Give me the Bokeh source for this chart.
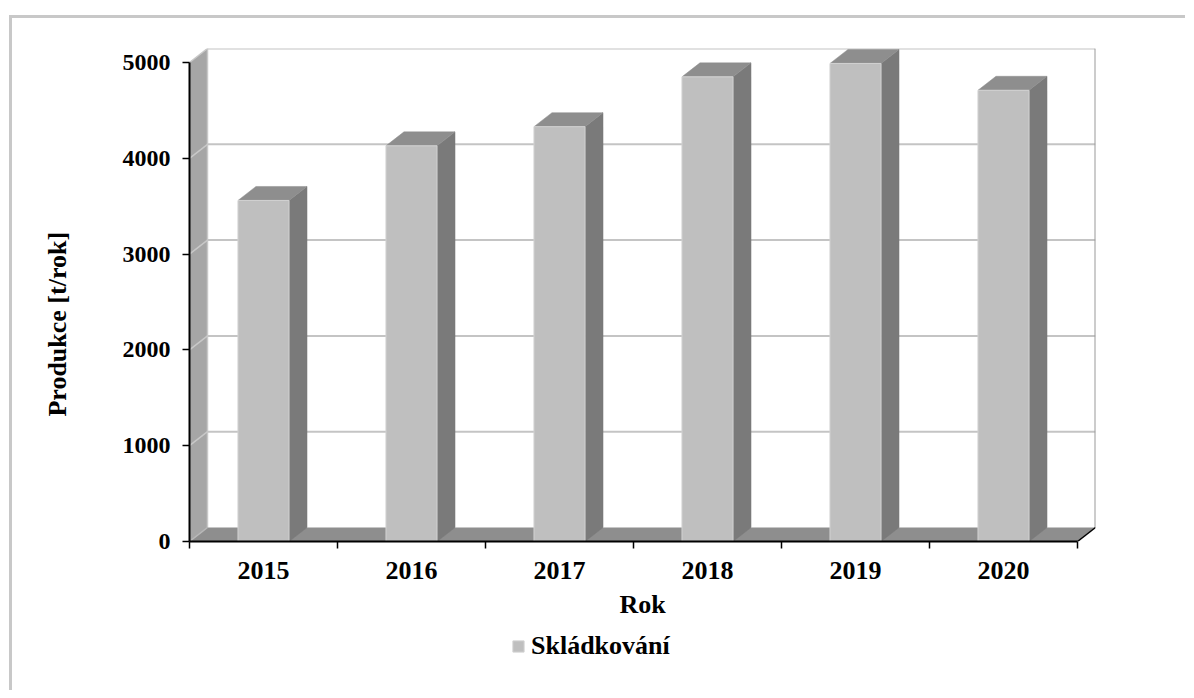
from bokeh.plotting import figure
from bokeh.layouts import column
from bokeh.models import Range1d, FixedTicker, LinearAxis, Legend, LegendItem
from bokeh.embed import file_html
from bokeh.resources import INLINE

# ---------------- data ----------------
years = ["2015", "2016", "2017", "2018", "2019", "2020"]
production = [3560, 4130, 4330, 4850, 4990, 4710]
y_ticks = [0, 1000, 2000, 3000, 4000, 5000]
series_name = "Skládkování"
x_title = "Rok"
y_title = "Produkce [t/rok]"

# ---------------- geometry (3-D look) ----------------
n = len(years)
y_max = y_ticks[-1]
bar_w = 0.345          # in category units
depth_x = 0.1216       # in category units
depth_y = 146          # in value units

FONT = "Liberation Serif"
FRONT = "#bfbfbf"

p = figure(width=1173, height=612,
           x_range=Range1d(0, n + depth_x), y_range=Range1d(0, y_max + depth_y),
           x_axis_type=None, y_axis_type=None,
           output_backend="svg", toolbar_location=None,
           min_border_left=177, min_border_right=90,
           min_border_top=30, min_border_bottom=89)
p.outline_line_color = None
p.background_fill_color = "white"
p.border_fill_color = "white"

# back wall
p.quad(left=depth_x, right=n + depth_x, bottom=depth_y, top=y_max + depth_y,
       fill_color="white", line_color=None)
grid_vals = y_ticks[1:]
p.segment(x0=[depth_x] * len(grid_vals), x1=[n + depth_x] * len(grid_vals),
          y0=[v + depth_y for v in grid_vals], y1=[v + depth_y for v in grid_vals],
          line_color="#c4c4c4", line_width=2)
p.segment(x0=[n + depth_x], x1=[n + depth_x], y0=[depth_y], y1=[y_max + depth_y],
          line_color="#9a9a9a", line_width=2)

# left wall
p.patch(x=[0, 0, depth_x, depth_x], y=[0, y_max, y_max + depth_y, depth_y],
        fill_color="#a6a6a6", line_color=None)
p.segment(x0=[0] * len(grid_vals), x1=[depth_x] * len(grid_vals),
          y0=grid_vals, y1=[v + depth_y for v in grid_vals],
          line_color="#c8c8c8", line_width=1.5)
p.segment(x0=[depth_x], x1=[depth_x], y0=[depth_y], y1=[y_max + depth_y],
          line_color="#c8c8c8", line_width=1.5)

# floor
p.patch(x=[0, n, n + depth_x, depth_x], y=[0, 0, depth_y, depth_y],
        fill_color="#8e8e8e", line_color=None)
p.segment(x0=[0], x1=[depth_x], y0=[0], y1=[depth_y], line_color="#b8b8b8", line_width=1.5)
p.segment(x0=[n], x1=[n + depth_x], y0=[0], y1=[depth_y], line_color="black", line_width=1.5)

# bars
centers = [i + 0.5 for i in range(n)]
lefts = [c - bar_w / 2 for c in centers]
rights = [c + bar_w / 2 for c in centers]
side_xs = [[r, r + depth_x, r + depth_x, r] for r in rights]
side_ys = [[0, depth_y, v + depth_y, v] for v in production]
top_xs = [[l, r, r + depth_x, l + depth_x] for l, r in zip(lefts, rights)]
top_ys = [[v, v, v + depth_y, v + depth_y] for v in production]
p.patches(xs=side_xs, ys=side_ys, fill_color="#7a7a7a", line_color="#7a7a7a", line_width=0.5)
p.patches(xs=top_xs, ys=top_ys, fill_color="#8e8e8e", line_color="#8e8e8e", line_width=0.5)
front = p.quad(left=lefts, right=rights, bottom=[0] * n, top=production,
               fill_color=FRONT, line_color="#d2d2d2", line_width=1)

# y axis
yaxis = LinearAxis(ticker=FixedTicker(ticks=y_ticks), bounds=(0, y_max))
yaxis.axis_line_color = "black"
yaxis.axis_line_width = 2
yaxis.major_tick_out = 7
yaxis.major_tick_in = 0
yaxis.major_tick_line_color = "black"
yaxis.major_tick_line_width = 1.5
yaxis.minor_tick_line_color = None
yaxis.major_label_standoff = 12
yaxis.major_label_text_font = FONT
yaxis.major_label_text_font_style = "bold"
yaxis.major_label_text_font_size = "24px"
yaxis.major_label_text_color = "black"
p.add_layout(yaxis, "left")

# second (label-only) left axis carrying the rotated y title; trailing no-break
# spaces move the visible words down so they sit where the reference has them
ytitle_axis = LinearAxis(ticker=FixedTicker(ticks=[]))
ytitle_axis.axis_line_color = None
ytitle_axis.major_tick_line_color = None
ytitle_axis.minor_tick_line_color = None
ytitle_axis.major_label_text_font_size = "0px"
ytitle_axis.axis_label = y_title + "\u00a0" * 9
ytitle_axis.axis_label_standoff = 48
ytitle_axis.axis_label_text_font = FONT
ytitle_axis.axis_label_text_font_style = "bold"
ytitle_axis.axis_label_text_font_size = "26px"
ytitle_axis.axis_label_text_color = "black"
p.add_layout(ytitle_axis, "left")

# x axis
xaxis = LinearAxis(ticker=FixedTicker(ticks=centers, minor_ticks=list(range(n + 1))),
                   bounds=(0, n))
xaxis.major_label_overrides = {c: y for c, y in zip(centers, years)}
xaxis.axis_line_color = "black"
xaxis.axis_line_width = 2
xaxis.major_tick_out = 0
xaxis.major_tick_in = 0
xaxis.major_tick_line_color = None
xaxis.minor_tick_out = 7
xaxis.minor_tick_in = 0
xaxis.minor_tick_line_color = "black"
xaxis.minor_tick_line_width = 1.5
xaxis.major_label_standoff = 13
xaxis.major_label_text_font = FONT
xaxis.major_label_text_font_style = "bold"
xaxis.major_label_text_font_size = "26px"
xaxis.major_label_text_color = "black"
xaxis.axis_label = x_title
xaxis.axis_label_standoff = 8
xaxis.axis_label_text_font = FONT
xaxis.axis_label_text_font_style = "bold"
xaxis.axis_label_text_font_size = "26px"
xaxis.axis_label_text_color = "black"
p.add_layout(xaxis, "below")

# legend strip under the chart (swatch renderer is hidden, only its legend entry shows)
p2 = figure(width=1173, height=60, x_range=Range1d(0, 1), y_range=Range1d(0, 1),
            x_axis_type=None, y_axis_type=None,
            output_backend="svg", toolbar_location=None,
            min_border_left=0, min_border_right=0, min_border_top=0, min_border_bottom=0)
p2.outline_line_color = None
p2.background_fill_color = "white"
p2.border_fill_color = "white"
swatch = p2.quad(left=lefts, right=rights, bottom=[0] * n, top=production,
                 fill_color=FRONT, line_color="#d2d2d2", line_width=1, visible=False)
legend = Legend(items=[LegendItem(label=series_name, renderers=[swatch])],
                location=(322, 29), orientation="horizontal",
                glyph_width=14, glyph_height=14, label_standoff=6,
                padding=0, margin=0, border_line_color=None,
                background_fill_alpha=0, inactive_fill_alpha=0,
                label_text_font=FONT, label_text_font_style="bold",
                label_text_font_size="26px", label_text_color="black")
p2.add_layout(legend)

layout = column(p, p2, spacing=0)
layout.margin = (15, 0, 0, 9)
layout.styles = {"border-left": "3px solid #c8c8c8", "border-top": "3px solid #c8c8c8"}

open("out.html", "w").write(file_html(layout, INLINE))
